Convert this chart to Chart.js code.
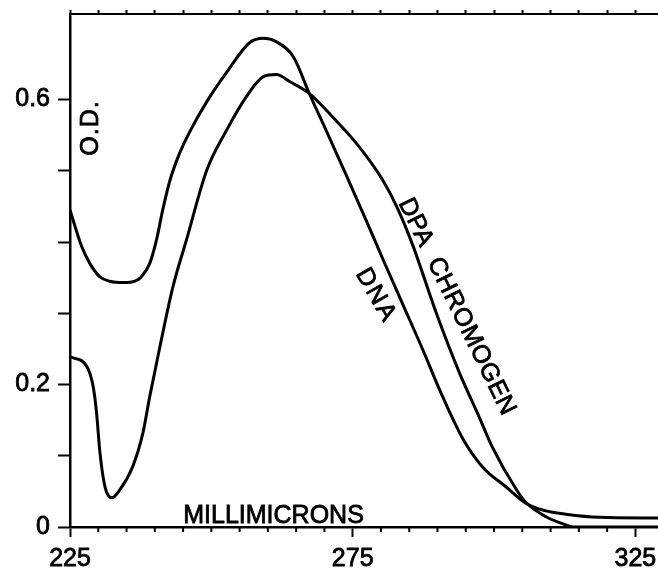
<!DOCTYPE html>
<html>
<head>
<meta charset="utf-8">
<script src="https://cdn.jsdelivr.net/npm/chart.js@4.4.1/dist/chart.umd.min.js"></script>
<style>
  html, body { margin: 0; padding: 0; background: #ffffff; }
  canvas { display: block; }
</style>
</head>
<body>
<canvas id="chart" width="658" height="571"></canvas>
<script>
// Wavelength (millimicrons) and optical density readings
const dnaWavelength = [225, 227, 228.5, 230.3, 232, 234.5, 236.5, 237.6, 239.1, 240.3, 241.4, 242.7, 244.3, 246.2, 249.2, 252.7, 256.8, 259.2, 261.5, 264.5, 267.4, 270.4, 273.9, 277.4, 280.5, 284, 287.5, 290.4, 294.4, 298.0, 302.1, 305.7, 309, 312.7, 318.6, 329];
const dnaOD =         [0.445, 0.395, 0.370, 0.351, 0.345, 0.343, 0.345, 0.351, 0.370, 0.403, 0.445, 0.487, 0.523, 0.555, 0.597, 0.638, 0.680, 0.686, 0.681, 0.660, 0.607, 0.555, 0.493, 0.430, 0.373, 0.310, 0.247, 0.192, 0.125, 0.084, 0.0565, 0.033, 0.023, 0.018, 0.0136, 0.0126];

const dpaWavelength = [225, 228, 229.1, 229.7, 230.3, 231.2, 232.4, 233.8, 236.1, 237.9, 239.1, 240.9, 243.2, 245.6, 249.2, 252.7, 256.2, 259.2, 261.5, 263.9, 267.4, 271.5, 275.7, 280.3, 282.95, 285.6, 289.8, 293.9, 297.4, 299.7, 304.0, 305.7, 309.2, 312.7, 314, 329];
const dpaOD =         [0.239, 0.225, 0.197, 0.160, 0.104, 0.056, 0.041, 0.052, 0.085, 0.132, 0.183, 0.253, 0.337, 0.403, 0.501, 0.557, 0.604, 0.632, 0.635, 0.625, 0.608, 0.575, 0.538, 0.487, 0.447, 0.396, 0.300, 0.216, 0.154, 0.112, 0.052, 0.034, 0.0144, 0.003, 0, 0];

const xTickValues = [225, 275, 325];
const xMinorValues = [230, 235, 240, 245, 250, 255, 260, 265, 270, 280, 285, 290, 295, 300, 305, 310, 315, 320];
const yTickValues = [0, 0.1, 0.2, 0.3, 0.4, 0.5, 0.6];
const yLabelValues = [0, 0.2, 0.6];

const FONT = "'Liberation Sans', Arial, sans-serif";

function toPoints(xs, ys) { return xs.map((x, i) => ({ x: x, y: ys[i] })); }
function noPad(s) { s.paddingLeft = 0; s.paddingRight = 0; s.paddingTop = 0; s.paddingBottom = 0; }

const annotationPlugin = {
  id: 'annotations',
  afterDraw(chart) {
    const ctx = chart.ctx;
    const xs = chart.scales.x, ys = chart.scales.y;
    ctx.save();
    // minor ticks on the bottom axis
    ctx.strokeStyle = '#000';
    ctx.lineWidth = 2;
    const yb = ys.getPixelForValue(0);
    xMinorValues.forEach(v => {
      const px = xs.getPixelForValue(v);
      ctx.beginPath(); ctx.moveTo(px, yb); ctx.lineTo(px, yb + 5); ctx.stroke();
    });
    ctx.fillStyle = '#000';
    ctx.strokeStyle = '#000';
    ctx.lineWidth = 0.8;
    function rotText(text, xv, yv, angleDeg, size, spacing) {
      ctx.save();
      ctx.translate(xs.getPixelForValue(xv), ys.getPixelForValue(yv));
      ctx.rotate(angleDeg * Math.PI / 180);
      ctx.font = size + 'px ' + FONT;
      try { ctx.letterSpacing = (spacing || 0) + 'px'; } catch (e) {}
      ctx.textAlign = 'center';
      ctx.textBaseline = 'middle';
      ctx.fillText(text, 0, 0);
      ctx.strokeText(text, 0, 0);
      ctx.restore();
    }
    rotText('O.D.', 228.7, 0.56, -90, 25, 1);
    rotText('DNA', 279.1, 0.325, 60, 25, 2);
    rotText('DPA  CHROMOGEN', 293.4, 0.309, 64, 25, 0.5);
    // axis title inside plot
    ctx.font = '25px ' + FONT;
    ctx.textAlign = 'center';
    ctx.textBaseline = 'alphabetic';
    const tx = xs.getPixelForValue(261), ty = ys.getPixelForValue(0.005);
    ctx.fillText('MILLIMICRONS', tx, ty);
    ctx.strokeText('MILLIMICRONS', tx, ty);
    ctx.restore();
  }
};

new Chart(document.getElementById('chart'), {
  type: 'line',
  data: {
    datasets: [
      { label: 'DNA', data: toPoints(dnaWavelength, dnaOD), borderColor: '#000', borderWidth: 3, pointRadius: 0, fill: false, cubicInterpolationMode: 'monotone' },
      { label: 'DPA CHROMOGEN', data: toPoints(dpaWavelength, dpaOD), borderColor: '#000', borderWidth: 3, pointRadius: 0, fill: false, cubicInterpolationMode: 'monotone' }
    ]
  },
  options: {
    responsive: false,
    animation: false,
    devicePixelRatio: 1,
    layout: { padding: 0 },
    plugins: { legend: { display: false }, tooltip: { enabled: false } },
    scales: {
      x: {
        type: 'linear', position: 'bottom', min: 225, max: 329,
        afterBuildTicks: s => { s.ticks = xTickValues.map(v => ({ value: v })); },
        afterFit: s => { s.height = 44; noPad(s); },
        grid: { drawOnChartArea: false, tickLength: 10, tickWidth: 2, tickColor: '#000' },
        border: { display: true, color: '#000', width: 2.5 },
        ticks: { color: '#000', padding: 7, font: { family: FONT, size: 25 }, textStrokeColor: '#000', textStrokeWidth: 0.8, maxRotation: 0, autoSkip: false, callback: v => String(v) }
      },
      x2: {
        type: 'linear', position: 'top', min: 225, max: 329,
        afterBuildTicks: s => { s.ticks = xTickValues.concat(xMinorValues).sort((a, b) => a - b).map(v => ({ value: v })); },
        afterFit: s => { s.height = 14; noPad(s); },
        grid: { drawOnChartArea: false, tickLength: 4, tickWidth: 2, tickColor: '#000' },
        border: { display: true, color: '#000', width: 2 },
        ticks: { display: false }
      },
      y: {
        type: 'linear', position: 'left', min: 0, max: 0.72,
        afterBuildTicks: s => { s.ticks = yTickValues.map(v => ({ value: v })); },
        afterFit: s => { s.width = 70; noPad(s); },
        grid: { drawOnChartArea: false, tickLength: 12, tickWidth: 2, tickColor: '#000' },
        border: { display: true, color: '#000', width: 2.5 },
        ticks: {
          color: '#000', padding: 8, font: { family: FONT, size: 25 }, textStrokeColor: '#000', textStrokeWidth: 0.8, autoSkip: false,
          callback: v => { const r = Math.round(v * 10) / 10; return yLabelValues.some(l => Math.abs(l - r) < 1e-6) ? (r === 0 ? '0' : r.toFixed(1)) : ''; }
        }
      }
    }
  },
  plugins: [annotationPlugin]
});
</script>
</body>
</html>
